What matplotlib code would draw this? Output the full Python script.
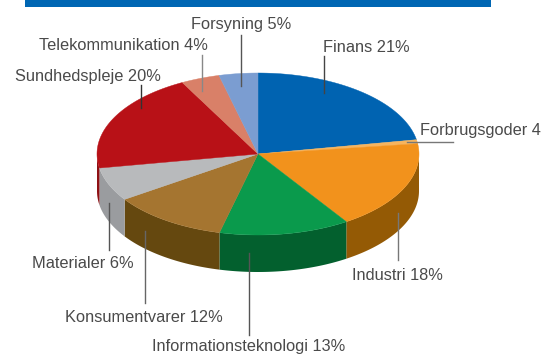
import numpy as np
import matplotlib
matplotlib.use('Agg')
import matplotlib.pyplot as plt

plt.rcParams['font.family'] = ['Liberation Sans', 'DejaVu Sans']

# clockwise from the top of the pie
sectors = ['Finans', 'Forbrugsgoder', 'Industri', 'Informationsteknologi',
           'Konsumentvarer', 'Materialer', 'Sundhedspleje',
           'Telekommunikation', 'Forsyning']
shares = [22.2, 0.8, 17.8, 13.1, 11.7, 6.7, 20, 3.9, 3.9]
labels = ['Finans 21%', 'Forbrugsgoder 4', 'Industri 18%', 'Informationsteknologi 13%',
          'Konsumentvarer 12%', 'Materialer 6%', 'Sundhedspleje 20%',
          'Telekommunikation 4%', 'Forsyning 5%']

top_colors = ['#0063b1', '#f6b45e', '#f2921c', '#0a9a4c', '#a57530',
              '#b8babc', '#b81117', '#d98068', '#7b9dd1']
side_colors = ['#004f8f', '#945a05', '#945a05', '#03602e', '#65480f',
               '#9a9c9f', '#8e1014', '#a05a48', '#5a78a8']

# pixel layout of the picture
cx, cy, rx, ry, depth = 258, 154, 161, 81, 37
text_x = [323, 420, 352, 152, 65, 32, 15, 39, 191]
text_y = [48, 131, 275, 347, 317, 263, 76, 46, 25]
line_x0 = [323.5, 407, 398, 249, 145, 109, 140.5, 202, 241]
line_x1 = [323.5, 453, 398, 249, 145, 109, 140.5, 202, 241]
line_y0 = [56, 141.5, 213, 253, 231, 203, 85, 55, 35]
line_y1 = [93, 141.5, 260, 335, 303, 250, 108, 91, 86]
line_colors = ['#444444', '#777777', '#777777', '#555555', '#666666',
               '#555555', '#333333', '#888888', '#555555']

fig = plt.figure(figsize=(5.44, 3.54), dpi=100)
ax = fig.add_axes([0, 0, 1, 1])
ax.set_xlim(0, 544)
ax.set_ylim(354, 0)
ax.axis('off')

ax.fill_between([25, 491], 0, 7, color='#0066b3', lw=0)

edges = np.cumsum([0] + shares) / sum(shares) * 2 * np.pi

# side wall first, only the front half of the rim shows
for i in range(len(shares)):
    t = np.linspace(max(edges[i], np.pi / 2), min(edges[i + 1], 3 * np.pi / 2), 60)
    if edges[i + 1] <= np.pi / 2 or edges[i] >= 3 * np.pi / 2:
        continue
    x = cx + rx * np.sin(t)
    y = cy - ry * np.cos(t)
    ax.fill(np.r_[x, x[::-1]], np.r_[y, y[::-1] + depth], color=side_colors[i], lw=0)

for i in range(len(shares)):
    t = np.linspace(edges[i], edges[i + 1], 80)
    x = np.r_[cx, cx + rx * np.sin(t)]
    y = np.r_[cy, cy - ry * np.cos(t)]
    ax.fill(x, y, color=top_colors[i], lw=0.3, ec=top_colors[i])

for i in range(len(labels)):
    ax.plot([line_x0[i], line_x1[i]], [line_y0[i], line_y1[i]], color=line_colors[i], lw=1)
    ax.text(text_x[i], text_y[i], labels[i], fontsize=11.75, color='#4a4a4a',
            ha='left', va='center')

fig.savefig('out.png', dpi=100)
